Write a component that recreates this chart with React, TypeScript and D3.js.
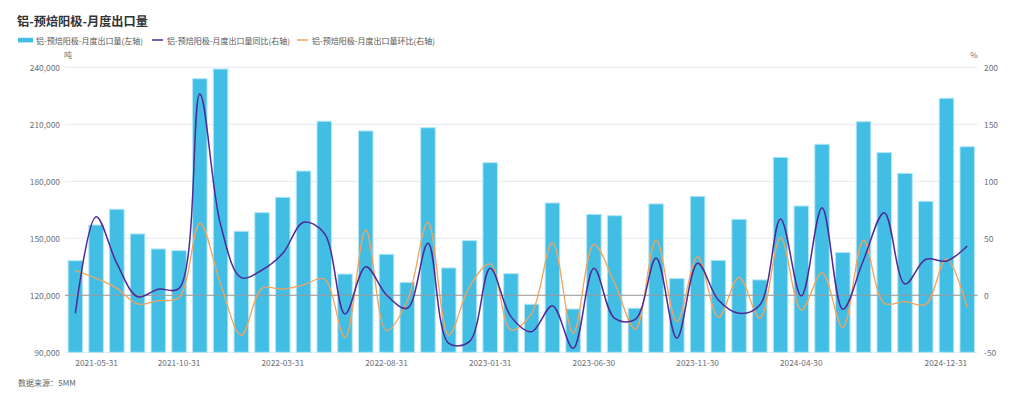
import * as d3 from "d3";

const WIDTH = 1024;
const HEIGHT = 399;
const MARGIN = { top: 67.3, right: 46.4, bottom: 46.7, left: 65 };

const FONT = "'Noto Sans CJK SC', 'Noto Sans', sans-serif";

// 月份（月末日期）
const months = [
  "2021-05-31", "2021-06-30", "2021-07-31", "2021-08-31", "2021-09-30", "2021-10-31",
  "2021-11-30", "2021-12-31", "2022-01-31", "2022-02-28", "2022-03-31", "2022-04-30",
  "2022-05-31", "2022-06-30", "2022-07-31", "2022-08-31", "2022-09-30", "2022-10-31",
  "2022-11-30", "2022-12-31", "2023-01-31", "2023-02-28", "2023-03-31", "2023-04-30",
  "2023-05-31", "2023-06-30", "2023-07-31", "2023-08-31", "2023-09-30", "2023-10-31",
  "2023-11-30", "2023-12-31", "2024-01-31", "2024-02-29", "2024-03-31", "2024-04-30",
  "2024-05-31", "2024-06-30", "2024-07-31", "2024-08-31", "2024-09-30", "2024-10-31",
  "2024-11-30", "2024-12-31",
];

// 月度出口量（吨）
const exportVolume = [
  138200, 157000, 165300, 152300, 144400, 143500, 234000, 239100, 153700, 163500,
  171600, 185400, 211600, 131200, 206500, 141600, 126800, 208200, 134400, 148800,
  189800, 131400, 115300, 168600, 112800, 162600, 161900, 113200, 168100, 128800,
  172100, 138400, 160000, 128100, 192600, 167000, 199500, 142500, 211400, 195100,
  184200, 169500, 223700, 198200,
];

// 同比（%）
const yoy = [
  -15.8, 69.0, 28.0, -1.2, 5.3, 6.1, 176.6, 62.0, 15.5, 22.2,
  36.8, 64.0, 54.4, -16.4, 25.1, 0.3, -11.4, 45.6, -42.1, -40.6,
  23.7, -18.7, -31.9, -9.1, -46.5, 23.7, -20.2, -21.1, 32.7, -37.7,
  28.1, -4.1, -15.8, -8.5, 67.0, -0.6, 76.9, -12.3, 31.0, 72.5,
  9.9, 31.6, 30.1, 43.3,
];

// 环比（%）
const mom = [
  21.9, 14.9, 6.1, -7.6, -4.7, -2.0, 63.2, 10.0, -35.1, 6.1,
  5.3, 9.1, 14.3, -37.1, 57.3, -31.0, -5.0, 64.0, -34.8, 7.6,
  27.5, -30.4, -15.8, 46.5, -33.3, 44.7, 10.5, -29.8, 48.5, -23.1,
  33.9, -19.3, 15.8, -20.2, 50.6, -12.9, 19.9, -28.4, 48.5, -7.0,
  -5.6, -7.9, 31.9, -10.5,
];

const leftTicks = [90000, 120000, 150000, 180000, 210000, 240000];
const rightTicks = [-50, 0, 50, 100, 150, 200];
const xTickLabels = [
  "2021-05-31", "2021-10-31", "2022-03-31", "2022-08-31", "2023-01-31",
  "2023-06-30", "2023-11-30", "2024-04-30", "2024-12-31",
];

const legendItems = [
  { label: "铝-预焙阳极-月度出口量(左轴)", color: "#42bee5", kind: "bar", x: 18, tx: 36 },
  { label: "铝-预焙阳极-月度出口量同比(右轴)", color: "#4e2a95", kind: "line", x: 152, tx: 167 },
  { label: "铝-预焙阳极-月度出口量环比(右轴)", color: "#f4a35c", kind: "line", x: 297, tx: 312 },
];

const App = () => {
  const x0 = MARGIN.left;
  const x1 = WIDTH - MARGIN.right;
  const y0 = HEIGHT - MARGIN.bottom;
  const y1 = MARGIN.top;

  const xScale = d3
    .scaleBand<string>()
    .domain(months)
    .range([x0, x1])
    .paddingInner(0.3)
    .paddingOuter(0.15);

  const yLeft = d3.scaleLinear().domain([90000, 240000]).range([y0, y1]);
  const yRight = d3.scaleLinear().domain([-50, 200]).range([y0, y1]);

  const cx = (m: string) => (xScale(m) || 0) + xScale.bandwidth() / 2;

  // smooth lines, close to echarts' smooth: true
  const lineBuilder = d3
    .line<number>()
    .x((_, i) => cx(months[i]))
    .y((d) => yRight(d))
    .curve(d3.curveCatmullRom.alpha(0.5));

  const grid = leftTicks.map((t, i) => (
    <line
      key={i}
      x1={x0}
      x2={x1}
      y1={yLeft(t)}
      y2={yLeft(t)}
      stroke="#e6e9f0"
      strokeWidth={1}
    />
  ));

  const bars = months.map((m, i) => (
    <rect
      key={m}
      x={xScale(m)}
      y={yLeft(exportVolume[i])}
      width={xScale.bandwidth()}
      height={y0 - yLeft(exportVolume[i])}
      fill="#42bee5"
      stroke="#b4e6f6"
      strokeWidth={1}
    />
  ));

  const xLabels = xTickLabels.map((label, i) => {
    const anchor =
      i === 0 ? "start" : i === xTickLabels.length - 1 ? "end" : "middle";
    return (
      <text
        key={label}
        x={cx(label)}
        y={362}
        textAnchor={anchor}
        dominantBaseline="central"
        fontSize={8.3}
        fill="#6e7079"
      >
        {label}
      </text>
    );
  });

  return (
    <svg
      width={WIDTH}
      height={HEIGHT}
      style={{ position: "absolute", left: 0, top: 0, background: "#fff" }}
      fontFamily={FONT}
    >
      <text x={17} y={21} fontSize={12.2} fontWeight="bold" fill="#333" dominantBaseline="central">
        铝-预焙阳极-月度出口量
      </text>

      {legendItems.map((item) => (
        <g key={item.label}>
          {item.kind === "bar" ? (
            <rect x={item.x} y={37.8} width={15} height={4.6} fill={item.color} />
          ) : (
            <line
              x1={item.x}
              x2={item.x + 11}
              y1={40}
              y2={40}
              stroke={item.color}
              strokeWidth={1.5}
            />
          )}
          <text
            x={item.tx}
            y={40.5}
            fontSize={8}
            fill="#555"
            dominantBaseline="central"
          >
            {item.label}
          </text>
        </g>
      ))}

      <text x={68} y={54} fontSize={8} fill="#6e7079" textAnchor="middle" dominantBaseline="central">
        吨
      </text>
      <text x={974} y={54} fontSize={8} fill="#6e7079" textAnchor="middle" dominantBaseline="central">
        %
      </text>

      {grid}
      <g>{bars}</g>

      <line x1={x0} x2={x1} y1={yRight(0)} y2={yRight(0)} stroke="#9a9a9a" strokeWidth={1} />

      <path d={lineBuilder(mom) || ""} fill="none" stroke="#f4a35c" strokeWidth={1.3} />
      <path d={lineBuilder(yoy) || ""} fill="none" stroke="#4e2a95" strokeWidth={1.5} />

      {leftTicks.map((t) => (
        <text
          key={t}
          x={60}
          y={yLeft(t)}
          textAnchor="end"
          dominantBaseline="central"
          fontSize={8.4}
          fill="#6e7079"
        >
          {d3.format(",")(t)}
        </text>
      ))}
      {rightTicks.map((t) => (
        <text
          key={t}
          x={984}
          y={yRight(t)}
          textAnchor="start"
          dominantBaseline="central"
          fontSize={8.4}
          fill="#6e7079"
        >
          {t}
        </text>
      ))}

      {xLabels}

      <text x={18} y={382} fontSize={8} fill="#666" dominantBaseline="central">
        数据来源：SMM
      </text>
    </svg>
  );
};

export default App;
